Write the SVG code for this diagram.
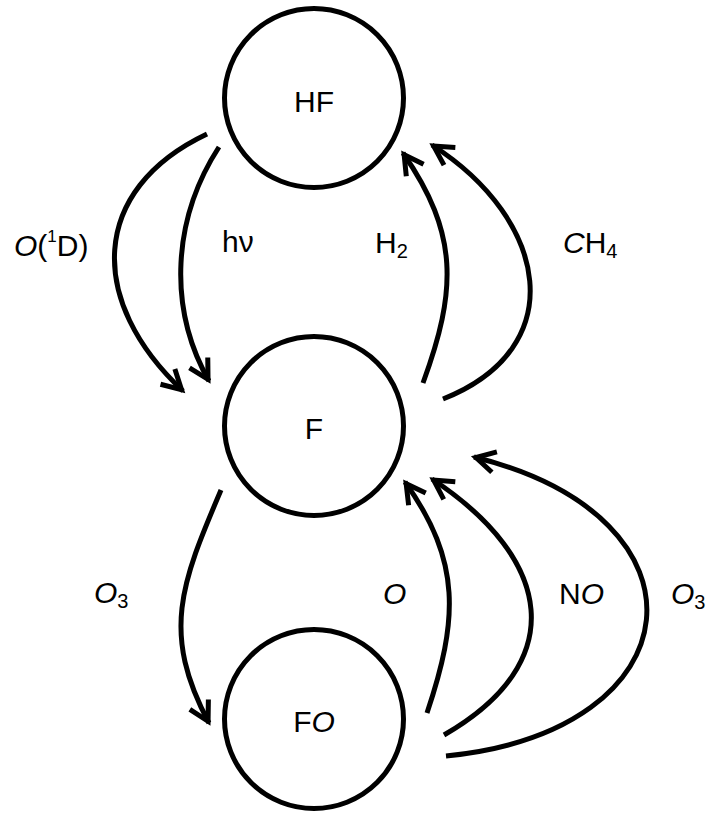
<svg xmlns="http://www.w3.org/2000/svg" width="706" height="813" viewBox="0 0 706 813">
<style>
.node{fill:#fff;stroke:#000;stroke-width:5}
.edge{fill:none;stroke:#000;stroke-width:5;marker-end:url(#arr)}
text{font-family:"Liberation Sans",Arial,sans-serif;font-size:30px;fill:#000}
.it{font-style:italic}
.sub{font-size:20px}
.sup{font-size:17px}
</style>
<defs>
<marker id="arr" markerUnits="userSpaceOnUse" orient="auto" markerWidth="40" markerHeight="40" refX="0" refY="0" viewBox="-30 -20 40 40" overflow="visible">
<path d="M-21,-10.5 L-2,0 L-21,10.5" fill="none" stroke="#000" stroke-width="5" stroke-linejoin="miter"/>
</marker>
</defs>
<g id="connectors">
<path id="e_O1D" class="edge" d="M207,134 C89,190 87,301 183,391"/>
<path id="e_hv" class="edge" d="M219,147 C173,218 167,307 209,381"/>
<path id="e_H2" class="edge" d="M423,383 C457,290 459,234 403,153"/>
<path id="e_CH4" class="edge" d="M443,399 C572,348 549,220 432,145"/>
<path id="e_O3a" class="edge" d="M221,490 C181,584 161,633 209,723"/>
<path id="e_O" class="edge" d="M427,713 C458,620 462,562 405,482"/>
<path id="e_NO" class="edge" d="M444,735 C571,662 553,559 432,479"/>
<path id="e_O3b" class="edge" d="M446,756 C697,731 720,518 474,457"/>
</g>
<g id="labels">
<text x="14" y="256"><tspan class="it">O</tspan>(<tspan class="sup" dy="-14">1</tspan><tspan dy="14">D)</tspan></text>
<text x="222" y="252">hν</text>
<text x="375" y="253">H<tspan class="sub" dy="5">2</tspan></text>
<text x="563" y="253"><tspan class="it">C</tspan>H<tspan class="sub" dy="5">4</tspan></text>
<text x="94" y="603"><tspan class="it">O</tspan><tspan class="sub" dy="5">3</tspan></text>
<text x="383" y="604" class="it">O</text>
<text x="559" y="604">N<tspan class="it">O</tspan></text>
<text x="671" y="604"><tspan class="it">O</tspan><tspan class="sub" dy="5">3</tspan></text>
</g>
<g id="HF">
<circle class="node" cx="314" cy="98" r="89.5"/>
<text x="314" y="112" text-anchor="middle">HF</text>
</g>
<g id="F">
<circle class="node" cx="314" cy="426" r="89.5"/>
<text x="314" y="439" text-anchor="middle">F</text>
</g>
<g id="FO">
<circle class="node" cx="314" cy="719" r="89.5"/>
<text x="314" y="732" text-anchor="middle">F<tspan class="it">O</tspan></text>
</g>
</svg>
